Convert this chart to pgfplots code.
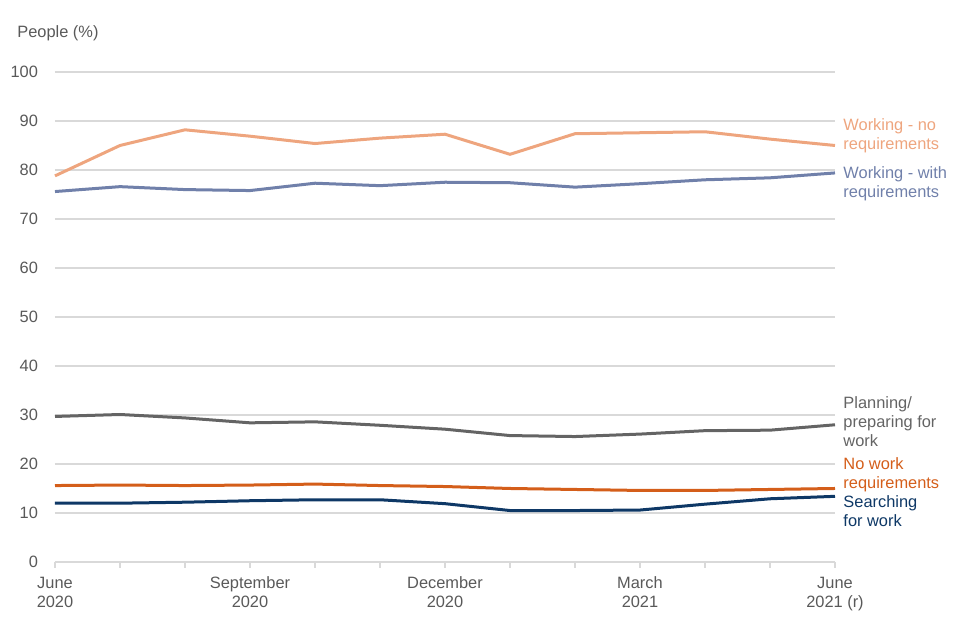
\documentclass[border=0pt]{standalone}
\usepackage{pgfplots}
\pgfplotsset{compat=1.18}
\usepackage{fontspec}
\setmainfont{Liberation Sans}

\definecolor{wno}{RGB}{238,165,126}
\definecolor{wwith}{RGB}{112,128,170}
\definecolor{plan}{RGB}{100,100,100}
\definecolor{nowork}{RGB}{212,94,26}
\definecolor{search}{RGB}{14,56,102}
\definecolor{gridc}{RGB}{217,217,217}
\definecolor{txt}{RGB}{89,89,89}

\begin{document}
\begin{tikzpicture}[font=\fontsize{8.2}{9.5}\selectfont]
  \useasboundingbox (-27.5pt,-39pt) rectangle (452.5pt,281pt);
  \begin{axis}[
      scale only axis,
      width=390pt, height=245pt,
      at={(0,0)}, anchor=origin,
      xmin=0, xmax=12, ymin=0, ymax=100,
      xtick={0,...,12},
      xticklabels={{June\\2020},,,{September\\2020},,,{December\\2020},,,{March\\2021},,,{June\\2021 (r)}},
      xticklabel style={align=center, text=txt, yshift=-1pt},
      ytick={0,10,...,100},
      yticklabel style={text=txt, xshift=-2pt},
      /pgf/number format/assume math mode=true,
      axis line style={draw=none},
      axis x line*=bottom,
      x axis line style={draw=gridc, line width=0.75pt},
      xtick pos=bottom, ytick pos=left,
      tick align=outside,
      major tick length=3pt,
      every tick/.style={draw=gridc, line width=0.6pt},
      ytick style={draw=none},
      ymajorgrids, grid style={draw=gridc, line width=0.75pt},
      every axis plot/.append style={line width=1.5pt},
      clip=false,
    ]
    % Working - no requirements
    \addplot[wno] coordinates {
      (0,78.8) (1,85.0) (2,88.2) (3,86.9) (4,85.4) (5,86.5) (6,87.3)
      (7,83.2) (8,87.4) (9,87.6) (10,87.8) (11,86.3) (12,85.0)};
    % Working - with requirements
    \addplot[wwith] coordinates {
      (0,75.6) (1,76.6) (2,76.0) (3,75.8) (4,77.3) (5,76.8) (6,77.5)
      (7,77.4) (8,76.5) (9,77.2) (10,78.0) (11,78.4) (12,79.4)};
    % Planning/preparing for work
    \addplot[plan] coordinates {
      (0,29.7) (1,30.1) (2,29.4) (3,28.4) (4,28.6) (5,27.9) (6,27.1)
      (7,25.8) (8,25.6) (9,26.1) (10,26.8) (11,26.9) (12,28.0)};
    % No work requirements
    \addplot[nowork] coordinates {
      (0,15.6) (1,15.7) (2,15.6) (3,15.7) (4,15.9) (5,15.6) (6,15.4)
      (7,15.0) (8,14.8) (9,14.6) (10,14.6) (11,14.8) (12,15.0)};
    % Searching for work
    \addplot[search] coordinates {
      (0,12.0) (1,12.0) (2,12.2) (3,12.5) (4,12.7) (5,12.7) (6,11.9)
      (7,10.5) (8,10.5) (9,10.6) (10,11.8) (11,12.9) (12,13.4)};

    \node[anchor=west, align=left, text=wno, xshift=0.7pt] at (axis cs:12,86.9) {Working - no\\requirements};
    \node[anchor=west, align=left, text=wwith, xshift=0.7pt] at (axis cs:12,77.1) {Working - with\\requirements};
    \node[anchor=west, align=left, text=plan, xshift=0.7pt] at (axis cs:12,28.6) {Planning/\\preparing for\\work};
    \node[anchor=west, align=left, text=nowork, xshift=0.7pt] at (axis cs:12,17.7) {No work\\requirements};
    \node[anchor=west, align=left, text=search, xshift=0.7pt] at (axis cs:12,10.3) {Searching\\for work};
    \node[anchor=west, text=txt, inner sep=0pt] at ([xshift=-19pt, yshift=19.5pt]rel axis cs:0,1) {People (\%)};
  \end{axis}
\end{tikzpicture}
\end{document}
